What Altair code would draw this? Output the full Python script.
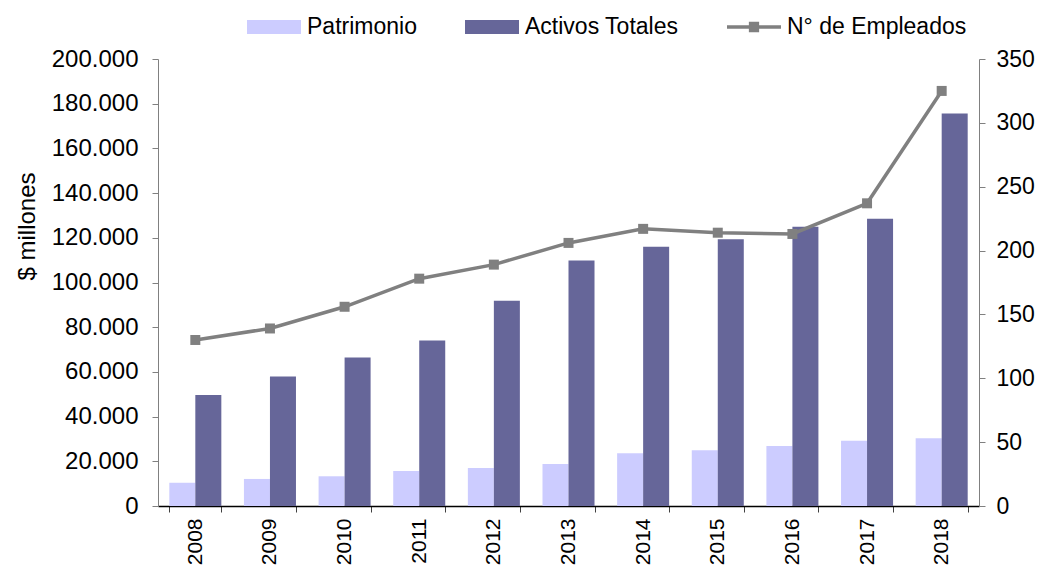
import altair as alt
import pandas as pd

years = ["2008", "2009", "2010", "2011", "2012", "2013", "2014", "2015", "2016", "2017", "2018"]
patrimonio = [10400, 12100, 13300, 15700, 17000, 18800, 23600, 24900, 26800, 29200, 30300]
activos = [49700, 57900, 66400, 74000, 91800, 109800, 116000, 119300, 125000, 128500, 175600]
empleados = [130, 139, 156, 178, 189, 206, 217, 214, 213, 237, 325]
series = ["Patrimonio", "Activos Totales", "N° de Empleados"]
colors = ["#CCCCFF", "#666699", "#808080"]
left_ticks = list(range(0, 200001, 20000))
right_ticks = list(range(0, 351, 50))

bars_df = pd.DataFrame({
    "year": years * 2,
    "series": [series[0]] * len(years) + [series[1]] * len(years),
    "value": patrimonio + activos,
})
emp_df = pd.DataFrame({"year": years, "emp": empleados})

FONT = "Liberation Sans"

x_enc = alt.X(
    "year:N",
    sort=years,
    scale=alt.Scale(paddingInner=0.303, paddingOuter=0.1515),
    axis=alt.Axis(
        title=None, labelAngle=270, labelFontSize=21, labelPadding=6,
        tickBand="extent", tickSize=6, tickColor="#404040",
        domainColor="#000000", domainWidth=1.3, labelColor="#000000",
    ),
)

shape_expr = (
    "datum.label == 'N° de Empleados' ? "
    "'M-1,-0.065H1V0.065H-1Z M-0.19,-0.19H0.19V0.19H-0.19Z' : "
    "'M-1,-0.26H1V0.26H-1Z'"
)

bars = alt.Chart(bars_df).mark_bar().encode(
    x=x_enc,
    xOffset=alt.XOffset("series:N", scale=alt.Scale(domain=series[:2], paddingInner=0, paddingOuter=0)),
    y=alt.Y(
        "value:Q",
        scale=alt.Scale(domain=[0, 200000], nice=False),
        axis=alt.Axis(
            values=left_ticks,
            labelExpr="replace(format(datum.value, ','), ',', '.')",
            title="$ millones", titleFontSize=24, titleFontWeight="normal",
            titlePadding=12, titleColor="#000000", titleY=167,
            labelFontSize=24, labelPadding=14, labelColor="#000000",
            tickSize=6, tickColor="#808080", domainColor="#808080",
            grid=False,
        ),
    ),
    color=alt.Color(
        "series:N",
        scale=alt.Scale(domain=series, range=colors),
        legend=alt.Legend(
            title=None, orient="none", legendX=89, legendY=-59,
            direction="horizontal", symbolType={"expr": shape_expr},
            symbolSize=2916, symbolStrokeWidth=0, symbolOpacity=1,
            labelFontSize=23, labelFont=FONT, labelOffset=6, labelLimit=400,
            columnPadding=48, padding=0, labelColor="#000000",
        ),
    ),
)

y_right = alt.Y(
    "emp:Q",
    scale=alt.Scale(domain=[0, 350], nice=False),
    axis=alt.Axis(
        orient="right", values=right_ticks, title=None,
        labelFontSize=23, labelPadding=11, labelColor="#000000",
        tickSize=6, tickColor="#808080", domainColor="#808080", grid=False,
    ),
)

line = alt.Chart(emp_df).mark_line(color="#808080", strokeWidth=3.5).encode(x=x_enc, y=y_right)
pts = alt.Chart(emp_df).mark_square(color="#808080", size=100, opacity=1).encode(x=x_enc, y=y_right)

chart = (
    alt.layer(bars, alt.layer(line, pts))
    .resolve_scale(y="independent")
    .properties(
        width=821, height=447,
        autosize=alt.AutoSizeParams(type="none"),
        padding={"left": 150, "top": 51, "right": 57, "bottom": 60},
    )
    .configure(font=FONT)
    .configure_view(stroke=None)
)

chart.save("out.html", embed_options={"renderer": "svg", "actions": False})
